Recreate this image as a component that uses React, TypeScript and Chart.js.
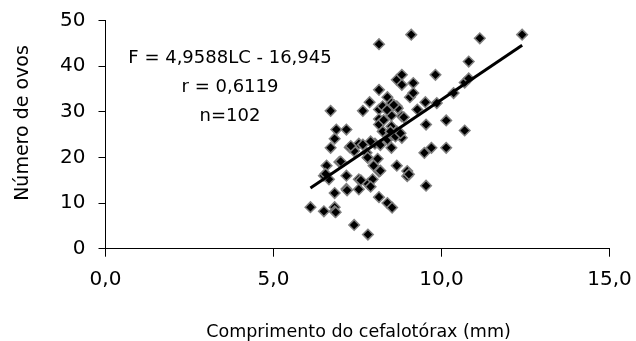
import React, { useEffect, useRef } from 'react';
import { Chart, registerables } from 'chart.js';

Chart.register(...registerables);

// Cephalothorax length (mm) of each female
const lengthMm = [
  6.1, 6.5, 6.5, 6.58, 6.65, 6.7, 6.7, 6.82, 6.82, 6.82,
  6.82, 6.87, 6.96, 7.17, 7.17, 7.17, 7.27, 7.4, 7.4, 7.54,
  7.54, 7.54, 7.66, 7.66, 7.77, 7.81, 7.81, 7.81, 7.86, 7.95,
  7.98, 8.02, 8.1, 8.14, 8.14, 8.14, 8.14, 8.14, 8.14, 8.14,
  8.25, 8.25, 8.39, 8.39, 8.39, 8.51, 8.51, 8.51, 8.51, 8.51,
  8.53, 8.67, 8.67, 8.67, 8.67, 8.82, 8.82, 8.82, 8.82, 8.98,
  8.98, 9.06, 9.1, 9.16, 9.16, 9.28, 9.49, 9.52, 9.54, 9.54,
  9.7, 9.82, 9.86, 10.14, 10.14, 10.36, 10.69, 10.69, 10.81, 10.81,
  11.14, 12.4, 8.38, 8.28, 8.48, 8.63, 8.78, 7.89, 8.18, 7.89,
  7.0, 6.55, 7.6, 6.85, 8.18, 9.03, 8.7, 8.88, 7.19, 8.58,
  7.3, 7.8,
];
// Number of eggs of each female
const eggCount = [
  9.1, 8.2, 16.0, 18.2, 15.2, 30.2, 22.1, 24.1, 12.2, 9.1,
  8.2, 26.1, 19.0, 26.1, 16.0, 13.1, 22.2, 5.2, 21.4, 23.0,
  15.2, 13.0, 30.2, 22.8, 21.0, 3.1, 19.9, 14.2, 32.1, 15.2,
  18.2, 23.0, 19.7, 44.8, 34.8, 30.5, 28.4, 27.2, 16.9, 11.3,
  25.7, 31.2, 33.2, 10.0, 23.9, 31.9, 29.2, 26.8, 25.0, 22.1,
  9.0, 37.0, 31.2, 25.7, 18.2, 38.1, 35.9, 29.0, 24.3, 17.0,
  15.9, 33.2, 46.9, 36.3, 34.1, 30.5, 21.0, 32.1, 27.2, 13.8,
  22.1, 38.1, 31.9, 28.1, 22.1, 34.1, 25.9, 36.4, 37.3, 41.0,
  46.1, 46.9, 30.4, 28.2, 25.7, 24.6, 25.3, 23.5, 22.7, 13.6,
  19.1, 16.4, 15.0, 8.0, 17.1, 16.3, 30.8, 28.8, 12.8, 31.5,
  22.5, 20.0,
];

// Regression line ends as drawn
const trendX = [6.1, 12.4];
const trendY = [13.3, 44.6];

const xTickValues = [0, 5, 10, 15];
const yTickValues = [0, 10, 20, 30, 40, 50];

const annotationLines = ['F = 4,9588LC - 16,945', 'r = 0,6119', 'n=102'];
const xTitle = 'Comprimento do cefalotórax (mm)';
const yTitle = 'Número de ovos';

const FONT = "'DejaVu Sans', 'Liberation Sans', Arial, sans-serif";

const textPlugin = {
  id: 'textPlugin',
  afterDraw(chart: any) {
    const ctx = chart.ctx as CanvasRenderingContext2D;
    const area = chart.chartArea;
    ctx.save();
    ctx.fillStyle = '#000';
    ctx.textAlign = 'center';
    ctx.textBaseline = 'alphabetic';
    // regression annotation
    ctx.font = `18px ${FONT}`;
    const cx = area.left + 124.5;
    const baseY = [area.top + 42, area.top + 71.5, area.top + 100];
    annotationLines.forEach((t, i) => ctx.fillText(t, cx, baseY[i]));
    // x axis title
    ctx.font = `17.5px ${FONT}`;
    ctx.fillText(xTitle, (area.left + area.right) / 2 + 1, area.bottom + 88);
    // y axis title
    ctx.font = `19px ${FONT}`;
    ctx.translate(28, area.top + 102.5);
    ctx.rotate(-Math.PI / 2);
    ctx.fillText(yTitle, 0, 0);
    ctx.restore();
  },
};

const zeroPadding = (scale: any) => {
  scale.paddingLeft = 0;
  scale.paddingRight = 0;
  scale.paddingTop = 0;
  scale.paddingBottom = 0;
};

export default function App() {
  const canvasRef = useRef<HTMLCanvasElement | null>(null);

  useEffect(() => {
    if (!canvasRef.current) return;
    const points = lengthMm.map((x, i) => ({ x, y: eggCount[i] }));
    const trend = trendX.map((x, i) => ({ x, y: trendY[i] }));
    const chart = new Chart(canvasRef.current, {
      type: 'scatter',
      data: {
        datasets: [
          {
            type: 'line',
            data: trend,
            borderColor: '#000',
            borderWidth: 3,
            pointRadius: 0,
            fill: false,
            order: 0,
          } as any,
          {
            data: points,
            pointStyle: 'rectRot',
            pointRadius: 5.3,
            pointBackgroundColor: '#000',
            pointBorderColor: '#808080',
            pointBorderWidth: 1.5,
            order: 1,
          },
        ],
      },
      options: {
        responsive: false,
        animation: false,
        events: [],
        layout: { padding: { top: 20.5, right: 26.5, left: 0, bottom: 0 } },
        plugins: {
          legend: { display: false },
          tooltip: { enabled: false },
          title: { display: false },
        },
        scales: {
          x: {
            type: 'linear',
            min: 0,
            max: 15,
            afterFit: (scale: any) => {
              scale.height = 92.3;
              zeroPadding(scale);
            },
            afterBuildTicks: (scale: any) => {
              scale.ticks = xTickValues.map((v) => ({ value: v }));
            },
            ticks: {
              color: '#000',
              padding: 11,
              font: { family: FONT, size: 20 },
              maxRotation: 0,
              callback: (v: any) => Number(v).toFixed(1).replace('.', ','),
            },
            grid: {
              drawOnChartArea: false,
              drawTicks: true,
              tickLength: 8,
              color: '#000',
              lineWidth: 1,
            },
            border: { display: true, color: '#000', width: 1 },
          },
          y: {
            type: 'linear',
            min: 0,
            max: 50,
            afterFit: (scale: any) => {
              scale.width = 105.5;
              zeroPadding(scale);
            },
            afterBuildTicks: (scale: any) => {
              scale.ticks = yTickValues.map((v) => ({ value: v }));
            },
            ticks: {
              color: '#000',
              padding: 13,
              font: { family: FONT, size: 20 },
            },
            grid: {
              drawOnChartArea: false,
              drawTicks: true,
              tickLength: 7,
              color: '#000',
              lineWidth: 1,
            },
            border: { display: true, color: '#000', width: 1 },
          },
        },
      },
      plugins: [textPlugin],
    });
    return () => chart.destroy();
  }, []);

  return (
    <div style={{ position: 'absolute', left: 0, top: 0, width: 636, height: 341, background: '#fff' }}>
      <canvas ref={canvasRef} width={636} height={341} style={{ display: 'block' }} />
    </div>
  );
}
